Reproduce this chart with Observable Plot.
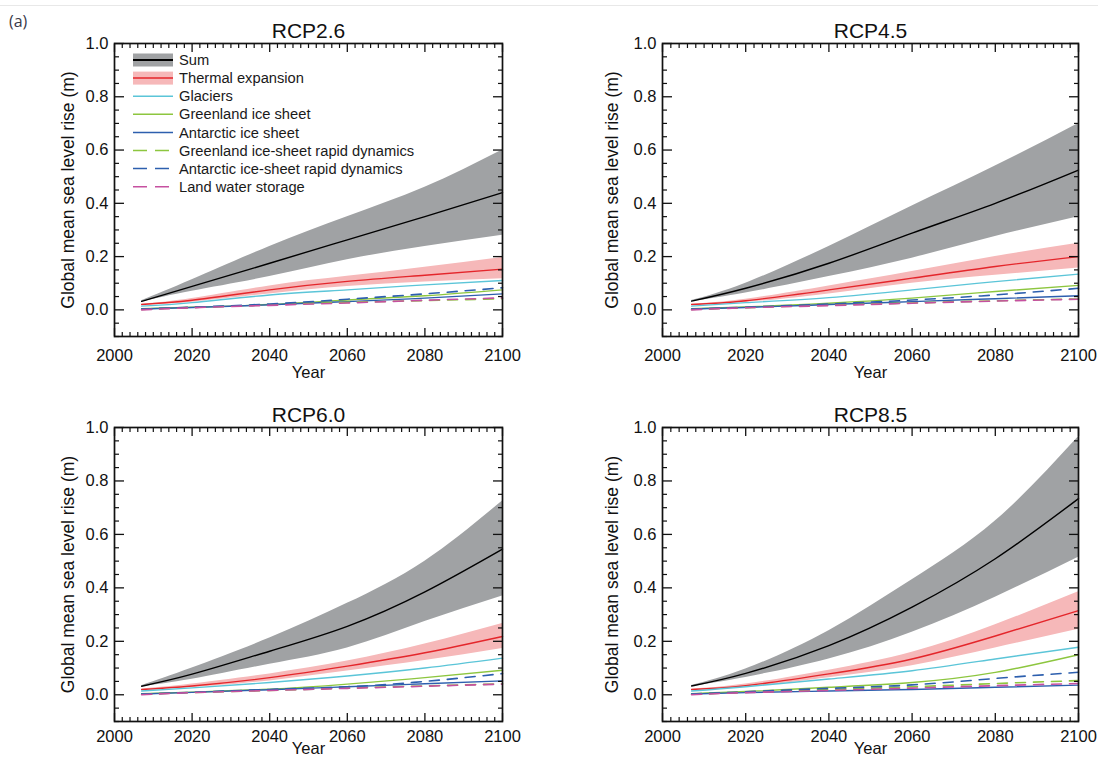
<!DOCTYPE html>
<html><head><meta charset="utf-8">
<script src="https://cdn.jsdelivr.net/npm/d3@7"></script>
<script src="https://cdn.jsdelivr.net/npm/@observablehq/plot@0.6"></script>
<style>
body{margin:0;background:#fff;font-family:"Liberation Sans",Arial,sans-serif;}
#root{position:relative;width:1098px;height:762px;overflow:hidden;background:#fff;}
.topline{position:absolute;left:0;top:5px;width:1098px;height:1px;background:#e8e8e8;}
.tag{position:absolute;left:9px;top:10px;font-size:16px;color:#3a3a4a;font-family:"Open Sans",sans-serif;}
.panel{position:absolute;}
</style></head><body>
<div id="root"><div class="topline"></div><div class="tag">(a)</div></div>
<script>
// ---------------- data ----------------
const years = [2007, 2020, 2040, 2060, 2080, 2100];
const scenarios = ["RCP2.6", "RCP4.5", "RCP6.0", "RCP8.5"];
const components = ["Sum", "Thermal expansion", "Glaciers", "Greenland ice sheet", "Antarctic ice sheet",
  "Greenland ice-sheet rapid dynamics", "Antarctic ice-sheet rapid dynamics", "Land water storage"];
const dashedComponents = ["Greenland ice-sheet rapid dynamics", "Antarctic ice-sheet rapid dynamics", "Land water storage"];

// one row per scenario: RCP2.6, RCP4.5, RCP6.0, RCP8.5
const sumMid = [
  [0.032, 0.088, 0.175, 0.263, 0.350, 0.440],
  [0.033, 0.081, 0.175, 0.288, 0.400, 0.525],
  [0.032, 0.077, 0.163, 0.256, 0.385, 0.545],
  [0.033, 0.080, 0.184, 0.328, 0.509, 0.734]];
const sumLo = [
  [0.030, 0.070, 0.125, 0.188, 0.238, 0.280],
  [0.031, 0.063, 0.125, 0.194, 0.275, 0.350],
  [0.030, 0.058, 0.114, 0.175, 0.274, 0.370],
  [0.031, 0.065, 0.134, 0.234, 0.365, 0.515]];
const sumHi = [
  [0.034, 0.113, 0.238, 0.350, 0.460, 0.600],
  [0.035, 0.100, 0.238, 0.390, 0.540, 0.700],
  [0.034, 0.100, 0.212, 0.342, 0.500, 0.725],
  [0.035, 0.096, 0.240, 0.430, 0.650, 0.965]];
const thermalMid = [
  [0.020, 0.036, 0.075, 0.107, 0.130, 0.153],
  [0.020, 0.034, 0.075, 0.119, 0.163, 0.200],
  [0.020, 0.033, 0.064, 0.107, 0.157, 0.218],
  [0.020, 0.034, 0.078, 0.134, 0.220, 0.315]];
const thermalLo = [
  [0.019, 0.029, 0.060, 0.088, 0.105, 0.117],
  [0.019, 0.028, 0.060, 0.100, 0.130, 0.157],
  [0.019, 0.027, 0.052, 0.089, 0.128, 0.173],
  [0.019, 0.028, 0.064, 0.109, 0.175, 0.245]];
const thermalHi = [
  [0.021, 0.043, 0.090, 0.126, 0.160, 0.197],
  [0.021, 0.040, 0.090, 0.144, 0.200, 0.250],
  [0.021, 0.040, 0.078, 0.126, 0.190, 0.267],
  [0.021, 0.040, 0.092, 0.159, 0.262, 0.385]];
const glaciers = [
  [0.014, 0.027, 0.056, 0.075, 0.094, 0.110],
  [0.014, 0.027, 0.046, 0.075, 0.106, 0.134],
  [0.014, 0.026, 0.046, 0.070, 0.100, 0.137],
  [0.014, 0.030, 0.059, 0.090, 0.134, 0.178]];
const greenland = [
  [0.004, 0.010, 0.020, 0.037, 0.053, 0.075],
  [0.004, 0.011, 0.025, 0.044, 0.069, 0.092],
  [0.004, 0.010, 0.021, 0.040, 0.064, 0.092],
  [0.004, 0.012, 0.028, 0.046, 0.084, 0.150]];
const antarctic = [
  [0.003, 0.009, 0.019, 0.031, 0.044, 0.060],
  [0.003, 0.009, 0.020, 0.031, 0.042, 0.053],
  [0.003, 0.009, 0.019, 0.030, 0.041, 0.052],
  [0.003, 0.008, 0.014, 0.020, 0.028, 0.036]];
const greenlandDyn = [
  [0.002, 0.009, 0.019, 0.028, 0.035, 0.042],
  [0.002, 0.008, 0.018, 0.026, 0.034, 0.041],
  [0.002, 0.008, 0.016, 0.025, 0.033, 0.041],
  [0.002, 0.009, 0.020, 0.030, 0.042, 0.053]];
const antarcticDyn = [
  [0.003, 0.010, 0.022, 0.040, 0.060, 0.083],
  [0.003, 0.010, 0.022, 0.037, 0.056, 0.081],
  [0.003, 0.009, 0.020, 0.030, 0.050, 0.079],
  [0.003, 0.011, 0.024, 0.037, 0.061, 0.084]];
const landWater = [
  [0.000, 0.008, 0.017, 0.026, 0.036, 0.045],
  [0.000, 0.008, 0.016, 0.025, 0.033, 0.040],
  [0.000, 0.008, 0.016, 0.024, 0.032, 0.040],
  [0.000, 0.008, 0.016, 0.025, 0.034, 0.042]];

const xMajorTicks = [2000, 2020, 2040, 2060, 2080, 2100];
const yMajorTicks = [0.0, 0.2, 0.4, 0.6, 0.8, 1.0];
const xLabel = "Year";
const yLabel = "Global mean sea level rise (m)";

// ---------------- styling ----------------
const lineColors = ["#000000", "#e4262b", "#5bc5d8", "#8dc63f", "#2d5fae", "#8dc63f", "#2d5fae", "#c650a0"];
const bandColors = ["#a0a2a4", "#f6b8b9"];
const xMinorTicks = d3.range(2000, 2101, 2).filter(v => v % 20 !== 0);
const yMinorTicks = d3.range(-0.1, 1.001, 0.05).map(v => +v.toFixed(2)).filter(v => Math.abs(Math.round(v * 5) - v * 5) > 1e-6);

const layouts = [
  {left: 0,   top: 0,   width: 549, height: 390, ml: 114, mr: 47, mb: 54, labelDx: -46, yearDy: 41, tickPad: 13},
  {left: 548, top: 0,   width: 550, height: 390, ml: 114, mr: 20, mb: 54, labelDx: -50, yearDy: 41, tickPad: 13},
  {left: 0,   top: 384, width: 549, height: 378, ml: 114, mr: 47, mb: 41, labelDx: -46, yearDy: 32, tickPad: 9},
  {left: 548, top: 384, width: 550, height: 378, ml: 114, mr: 20, mb: 41, labelDx: -50, yearDy: 32, tickPad: 9}];

const seriesList = [sumMid, thermalMid, glaciers, greenland, antarctic, greenlandDyn, antarcticDyn, landWater];

function tickAxes() {
  const out = [];
  for (const anchor of ["bottom", "top"]) {
    out.push(Plot.axisX({anchor, ticks: xMajorTicks, tickSize: -8, fill: "none", label: null, stroke: "#111", strokeWidth: 1.3}));
    out.push(Plot.axisX({anchor, ticks: xMinorTicks, tickSize: -4, fill: "none", label: null, stroke: "#111", strokeWidth: 1.2}));
  }
  for (const anchor of ["left", "right"]) {
    out.push(Plot.axisY({anchor, ticks: yMajorTicks, tickSize: -10, fill: "none", label: null, stroke: "#111", strokeWidth: 1.3}));
    out.push(Plot.axisY({anchor, ticks: yMinorTicks, tickSize: -5, fill: "none", label: null, stroke: "#111", strokeWidth: 1.2}));
  }
  return out;
}

function makePanel(s) {
  const L = layouts[s];
  const lines = [];
  seriesList.forEach((arr, c) => years.forEach((yr, i) => lines.push({year: yr, value: arr[s][i], comp: components[c]})));
  const sumBand = years.map((yr, i) => ({year: yr, lo: sumLo[s][i], hi: sumHi[s][i]}));
  const thBand = years.map((yr, i) => ({year: yr, lo: thermalLo[s][i], hi: thermalHi[s][i]}));
  const solid = lines.filter(d => !dashedComponents.includes(d.comp));
  const dashed = lines.filter(d => dashedComponents.includes(d.comp));
  const curve = "natural";
  const chart = Plot.plot({
    width: L.width, height: L.height,
    marginLeft: L.ml, marginRight: L.mr, marginTop: 43, marginBottom: L.mb,
    style: {fontFamily: "'Liberation Sans', Arial, sans-serif", fontSize: "16.5px", color: "#111", background: "transparent", overflow: "visible"},
    x: {domain: [2000, 2100]},
    y: {domain: [-0.1, 1.0]},
    color: {domain: components, range: lineColors},
    marks: [
      Plot.areaY(sumBand, {x: "year", y1: "lo", y2: "hi", fill: bandColors[0], curve}),
      Plot.areaY(thBand, {x: "year", y1: "lo", y2: "hi", fill: bandColors[1], curve}),
      Plot.line(solid, {x: "year", y: "value", z: "comp", stroke: "comp", strokeWidth: 1.4, curve}),
      Plot.line(dashed, {x: "year", y: "value", z: "comp", stroke: "comp", strokeWidth: 1.6, strokeDasharray: "10,8", curve}),
      ...tickAxes(),
      Plot.axisX({anchor: "bottom", ticks: xMajorTicks, tickSize: 0, tickPadding: L.tickPad, tickFormat: d => String(d), label: null, fontSize: 16.5}),
      Plot.axisY({anchor: "left", ticks: yMajorTicks, tickSize: 0, tickPadding: 6, tickFormat: d3.format(".1f"), label: null, fontSize: 16.5}),
      Plot.frame({stroke: "#111", strokeWidth: 1.7}),
      Plot.text([scenarios[s]], {frameAnchor: "top", dy: -6, lineAnchor: "bottom", fontSize: 21}),
      Plot.text([yLabel], {frameAnchor: "left", textAnchor: "middle", rotate: -90, dx: L.labelDx, fontSize: 17.5}),
      Plot.text([xLabel], {frameAnchor: "bottom", dy: L.yearDy, fontSize: 16.5})
    ]
  });
  const wrap = document.createElement("div");
  wrap.className = "panel";
  wrap.style.left = L.left + "px";
  wrap.style.top = L.top + "px";
  wrap.appendChild(chart);
  document.getElementById("root").appendChild(wrap);
}

scenarios.forEach((_, s) => makePanel(s));

// ---------------- legend (inside the first panel) ----------------
const legend = d3.select("#root").append("svg")
  .attr("width", 549).attr("height", 390)
  .style("position", "absolute").style("left", "0px").style("top", "0px")
  .style("font-family", "'Liberation Sans', Arial, sans-serif");
components.forEach((name, i) => {
  const y = 60 + i * 18.1;
  const isDashed = dashedComponents.includes(name);
  if (i < bandColors.length) {
    legend.append("rect").attr("x", 133).attr("y", y - 6.5).attr("width", 40).attr("height", 13).attr("fill", bandColors[i]);
  }
  legend.append("line").attr("x1", 133).attr("x2", isDashed ? 169 : 173).attr("y1", y).attr("y2", y)
    .attr("stroke", lineColors[i]).attr("stroke-width", i === 0 ? 2 : 1.5)
    .attr("stroke-dasharray", isDashed ? "14,8" : null);
  legend.append("text").attr("x", 179).attr("y", y).attr("dy", "0.35em")
    .attr("font-size", 14.7).attr("fill", "#1a1a1a").text(name);
});
</script>
</body></html>
